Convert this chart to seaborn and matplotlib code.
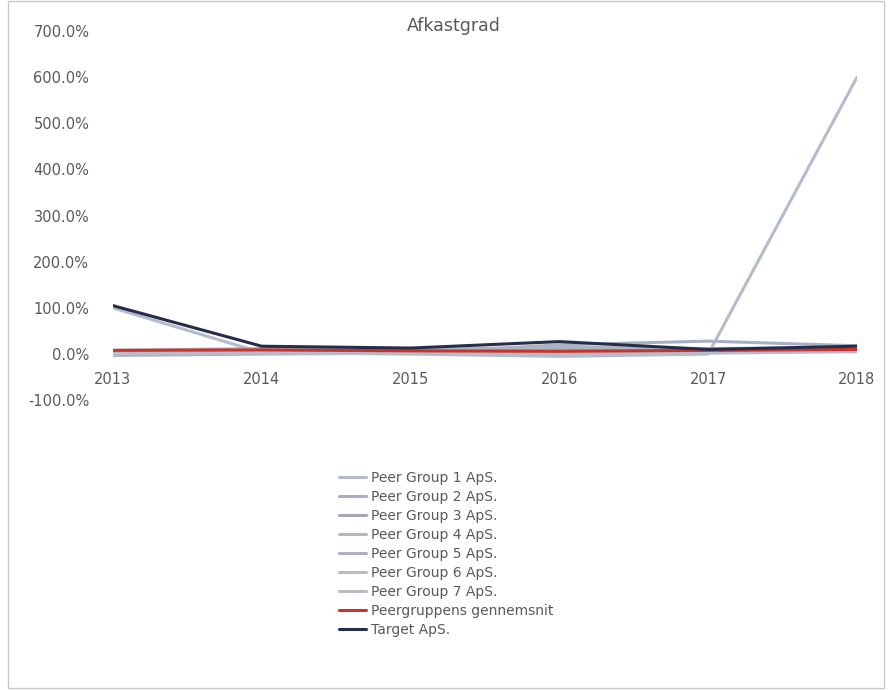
import pandas as pd
import numpy as np
import matplotlib.pyplot as plt
import seaborn as sns
from matplotlib.patches import Rectangle
from matplotlib.ticker import FuncFormatter

sns.set_style('white')
plt.rcParams['font.family'] = ['DejaVu Sans']

# Data (return rate in %)
years = [2013, 2014, 2015, 2016, 2017, 2018]
peer1 = [100, 3, 0, -5, 0, 600]
peer2 = [-3, 0, 2, 20, 28, 18]
peer3 = [5, 10, 8, 10, 10, 12]
peer4 = [2, 5, 3, 0, 5, 8]
peer5 = [8, 12, 10, 15, 12, 14]
peer6 = [0, 2, 1, -3, 2, 5]
peer7 = [6, 8, 6, 5, 7, 10]
peer_avg = [8, 9, 7, 6, 8, 10]
target = [105, 17, 13, 27, 10, 17]

series_names = ['Peer Group 1 ApS.', 'Peer Group 2 ApS.', 'Peer Group 3 ApS.',
                'Peer Group 4 ApS.', 'Peer Group 5 ApS.', 'Peer Group 6 ApS.',
                'Peer Group 7 ApS.', 'Peergruppens gennemsnit', 'Target ApS.']
series_values = [peer1, peer2, peer3, peer4, peer5, peer6, peer7, peer_avg, target]
colors = ['#B3BBCC', '#A9AFC2', '#A3A8B8', '#B0B6C6', '#ACB2C0', '#B5BCCD', '#B8BDC8',
          '#C8332C', '#262D4A']

df = pd.DataFrame([
    {'Year': y, 'Series': name, 'Value': v}
    for name, vals in zip(series_names, series_values)
    for y, v in zip(years, vals)
])

fig = plt.figure(figsize=(8.89, 6.90), dpi=100)
ax = fig.add_axes([0.127, 0.420, 0.837, 0.535])

palette = dict(zip(series_names, colors))
sns.lineplot(data=df, x='Year', y='Value', hue='Series', palette=palette,
             linewidth=2.2, ax=ax, legend=True, sort=False)
# keep the average and target lines on top
for line, name in zip(ax.get_lines(), series_names):
    if name in ('Peergruppens gennemsnit', 'Target ApS.'):
        line.set_zorder(5)

ax.set_xlim(2013, 2018)
ax.set_ylim(-100, 700)
ax.set_yticks(np.arange(-100, 701, 100))
ax.yaxis.set_major_formatter(FuncFormatter(lambda v, p: f'{v:.1f}%'))
ax.set_xticks(years)
ax.set_xlabel('')
ax.set_ylabel('')
for s in ax.spines.values():
    s.set_visible(False)
ax.spines['bottom'].set_position(('data', 0))
ax.tick_params(axis='both', length=0, labelsize=10.5, colors='#595959')
ax.tick_params(axis='y', pad=17)
ax.tick_params(axis='x', pad=13)
ax.set_title('Afkastgrad', fontsize=12.5, color='#595959', pad=0)
ax.title.set_position((0.458, 1.02))

handles, labels = ax.get_legend_handles_labels()
ax.legend_.remove()
for h in handles:
    h.set_linewidth(2.2)
fig.legend(handles, labels, loc='upper left', bbox_to_anchor=(0.381, 0.318),
           frameon=False, fontsize=10, labelcolor='#595959', handlelength=2.0,
           handletextpad=0.35, labelspacing=0.36, borderaxespad=0, borderpad=0)

fig.patches.append(Rectangle((0.009, 0.003), 0.985, 0.995, transform=fig.transFigure,
                             fill=False, edgecolor='#C8C8C8', linewidth=1))

plt.savefig('out.png', dpi=100)
